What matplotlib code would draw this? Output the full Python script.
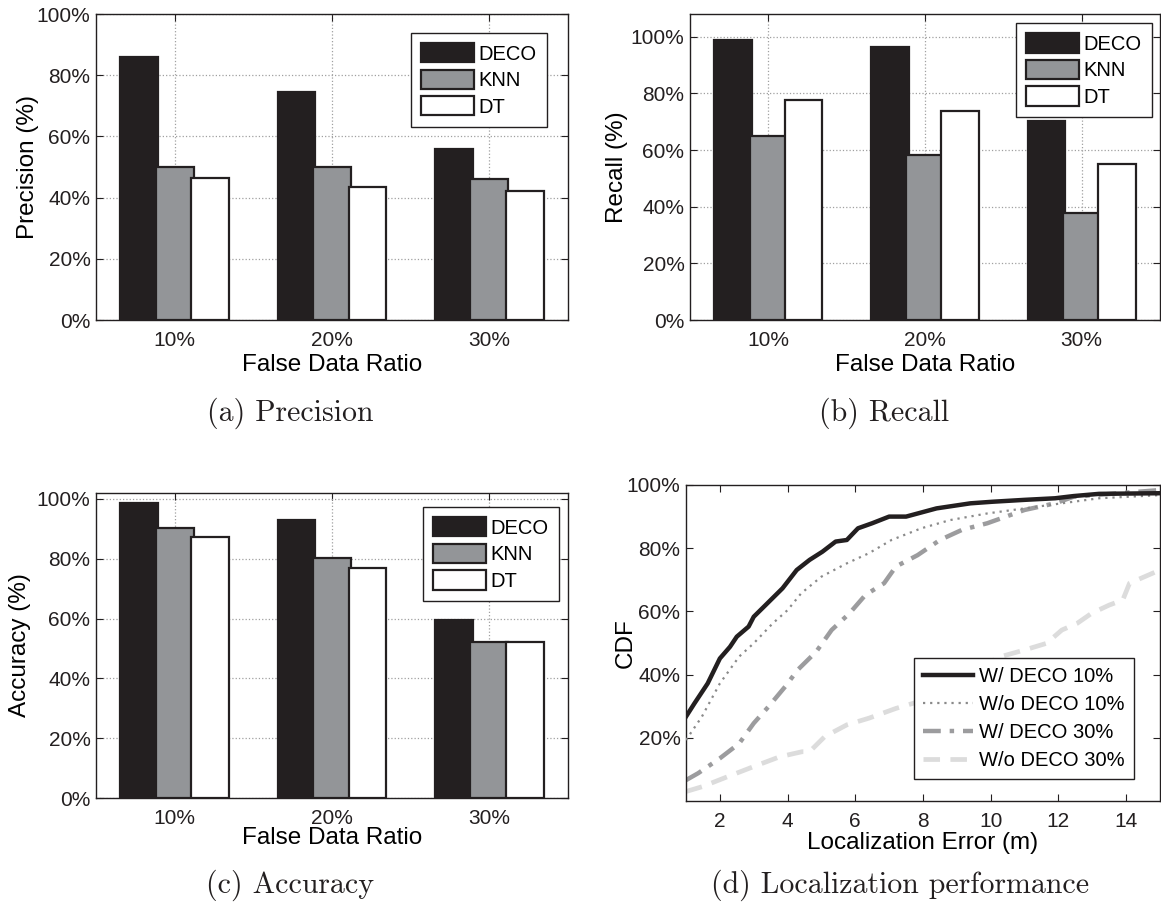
import numpy as np
import matplotlib
matplotlib.use("Agg")
import matplotlib.pyplot as plt

plt.rcParams['font.family'] = ['Liberation Sans', 'DejaVu Sans']

# bar data (percent)
ratios = ['10%', '20%', '30%']
methods = ['DECO', 'KNN', 'DT']
precision = {'DECO': [86.0, 74.5, 56.0], 'KNN': [50.0, 50.0, 46.0], 'DT': [46.5, 43.5, 42.0]}
recall = {'DECO': [98.8, 96.2, 70.1], 'KNN': [64.9, 58.1, 37.6], 'DT': [77.8, 73.9, 55.2]}
accuracy = {'DECO': [98.8, 92.9, 59.6], 'KNN': [90.2, 80.4, 52.1], 'DT': [87.3, 76.8, 52.1]}

# CDF data: localization error (m) vs CDF (%)
w_deco10_x = [1.0, 1.25, 1.64, 2.0, 2.3, 2.5, 2.85, 3.0, 3.35, 3.85, 4.27, 4.65, 5.03, 5.42, 5.75,
              6.08, 6.5, 7.0, 7.5, 8.4, 9.4, 10.05, 11.0, 11.9, 12.45, 13.2, 15.0]
w_deco10_y = [26.7, 30.9, 37.2, 45.1, 48.8, 52.0, 55.2, 58.3, 62.0, 67.3, 73.1, 76.3, 78.9, 82.1, 82.6,
              86.3, 87.9, 90.0, 90.0, 92.6, 94.2, 94.7, 95.3, 95.8, 96.5, 97.2, 97.4]
wo_deco10_x = [1.0, 1.47, 2.0, 2.57, 3.0, 3.56, 4.0, 4.4, 5.0, 5.75, 6.4, 7.07, 7.95, 8.8, 9.9,
               11.0, 12.1, 13.2, 15.0]
wo_deco10_y = [19.3, 26.7, 37.2, 45.7, 49.9, 56.2, 60.4, 65.7, 71.0, 75.2, 78.4, 82.6, 86.3, 88.9, 91.0,
               92.6, 94.2, 95.8, 96.8]
w_deco30_x = [1.0, 1.36, 2.0, 2.57, 3.0, 3.44, 3.93, 4.3, 4.85, 5.3, 5.83, 6.3, 6.85, 7.2, 7.84,
              8.5, 9.15, 9.9, 10.45, 11.0, 11.9, 12.45, 13.8, 15.0]
w_deco30_y = [6.6, 8.8, 13.5, 18.2, 24.6, 29.9, 36.2, 41.5, 47.3, 54.1, 59.4, 65.2, 68.9, 74.2, 77.8,
              82.6, 85.8, 87.9, 90.0, 92.1, 94.2, 96.3, 97.4, 98.4]
wo_deco30_x = [1.0, 1.47, 2.23, 3.0, 3.77, 4.43, 4.65, 5.1, 5.75, 6.4, 7.2, 8.05, 8.85, 9.5, 10.3,
               11.0, 11.65, 12.1, 12.55, 12.98, 13.5, 13.9, 14.1, 15.0]
wo_deco30_y = [3.0, 4.5, 7.7, 10.9, 14.0, 15.6, 15.6, 20.4, 24.1, 26.2, 29.3, 32.0, 36.2, 41.5, 45.7,
               47.8, 49.9, 54.1, 56.2, 59.4, 62.0, 63.6, 68.9, 73.1]

W, H = 1161, 914
fig = plt.figure(figsize=(W / 100, H / 100), dpi=100)

def px_axes(left, top, right, bottom):
    return fig.add_axes([left / W, 1 - bottom / H, (right - left) / W, (bottom - top) / H])

dark = '#231f20'
bar_colors = {'DECO': '#231f20', 'KNN': '#939598', 'DT': '#ffffff'}
offsets = [-0.225, 0.0, 0.225]
tick_fs = 15
label_fs = 17.5
leg_fs = 14.5

def style_axes(ax):
    ax.tick_params(direction='in', top=True, right=True, length=5, width=0.8,
                   labelsize=tick_fs, colors='#231f20')
    ax.tick_params(axis='x', pad=8)
    ax.tick_params(axis='y', pad=4)
    for s in ax.spines.values():
        s.set_linewidth(1.0)
        s.set_color('#231f20')

def bar_panel(ax, data, ylabel, ytop, leg_anchor):
    x = np.arange(1, len(ratios) + 1)
    for m, off in zip(methods, offsets):
        ax.bar(x + off, data[m], width=0.24, color=bar_colors[m], edgecolor=dark,
               linewidth=1.6, label=m, zorder=3)
    ax.set_xlim(0.5, 3.5)
    ax.set_ylim(0, ytop)
    ax.set_xticks(x)
    ax.set_xticklabels(ratios)
    ax.set_yticks(np.arange(0, 101, 20))
    ax.set_yticklabels(['%d%%' % v for v in range(0, 101, 20)])
    ax.set_axisbelow(True)
    ax.grid(True, linestyle=':', color='#a0a0a0', linewidth=0.9)
    style_axes(ax)
    ax.set_xlabel('False Data Ratio', fontsize=label_fs, va='center')
    ax.set_ylabel(ylabel, fontsize=label_fs, va='center')
    leg = ax.legend(loc='upper right', bbox_to_anchor=leg_anchor, borderaxespad=0,
                    fontsize=leg_fs, handlelength=2.6, handleheight=1.1, handletextpad=0.25,
                    labelspacing=0.3, borderpad=0.5, fancybox=False, framealpha=1,
                    edgecolor=dark)
    leg.get_frame().set_linewidth(1.0)
    leg.set_zorder(5)

ax1 = px_axes(96, 14, 568, 320)
bar_panel(ax1, precision, 'Precision (%)', 100, (0.955, 0.938))
ax1.xaxis.set_label_coords(0.5, -0.147)
ax1.yaxis.set_label_coords(-0.144, 0.5)

ax2 = px_axes(690, 14, 1160, 320)
bar_panel(ax2, recall, 'Recall (%)', 108, (0.983, 0.97))
ax2.xaxis.set_label_coords(0.5, -0.147)
ax2.yaxis.set_label_coords(-0.155, 0.5)

ax3 = px_axes(96, 493, 568, 798)
bar_panel(ax3, accuracy, 'Accuracy (%)', 102, (0.981, 0.954))
ax3.xaxis.set_label_coords(0.5, -0.131)
ax3.yaxis.set_label_coords(-0.161, 0.5)

ax4 = px_axes(686, 485, 1160, 801)
ax4.plot(w_deco10_x, w_deco10_y, color='#231f20', linewidth=3.2, label='W/ DECO 10%', zorder=4)
ax4.plot(wo_deco10_x, wo_deco10_y, color='#8a8a8a', linewidth=1.6, linestyle=(0, (1, 2.2)),
         label='W/o DECO 10%', zorder=3)
ax4.plot(w_deco30_x, w_deco30_y, color='#9c9c9e', linewidth=3.2, linestyle=(0, (4, 2, 1, 2)),
         label='W/ DECO 30%', zorder=2)
ax4.plot(wo_deco30_x, wo_deco30_y, color='#dcdcdc', linewidth=3.4, linestyle=(0, (3.5, 2.2)),
         label='W/o DECO 30%', zorder=1)
ax4.set_xlim(1, 15)
ax4.set_ylim(0, 100)
ax4.set_xticks(range(2, 15, 2))
ax4.set_yticks(range(20, 101, 20))
ax4.set_yticklabels(['%d%%' % v for v in range(20, 101, 20)])
style_axes(ax4)
ax4.set_xlabel('Localization Error (m)', fontsize=label_fs, va='center')
ax4.set_ylabel('CDF', fontsize=label_fs, va='center')
ax4.xaxis.set_label_coords(0.5, -0.133)
ax4.yaxis.set_label_coords(-0.128, 0.5)
leg4 = ax4.legend(loc='lower right', bbox_to_anchor=(0.945, 0.07), borderaxespad=0,
                  fontsize=leg_fs, handlelength=2.5, handletextpad=0.3, labelspacing=0.45,
                  borderpad=0.45, fancybox=False, framealpha=1, edgecolor=dark)
leg4.get_frame().set_linewidth(1.0)

# sub-figure captions
caps = [('(a) Precision', 290, 413), ('(b) Recall', 884, 413),
        ('(c) Accuracy', 290, 885), ('(d) Localization performance', 900, 885)]
for txt, cx, cy in caps:
    fig.text(cx / W, 1 - cy / H, txt, fontsize=21.5, family=['cmr10', 'DejaVu Serif'],
             ha='center', va='center', color='#231f20')

fig.savefig('out.png', dpi=100)
